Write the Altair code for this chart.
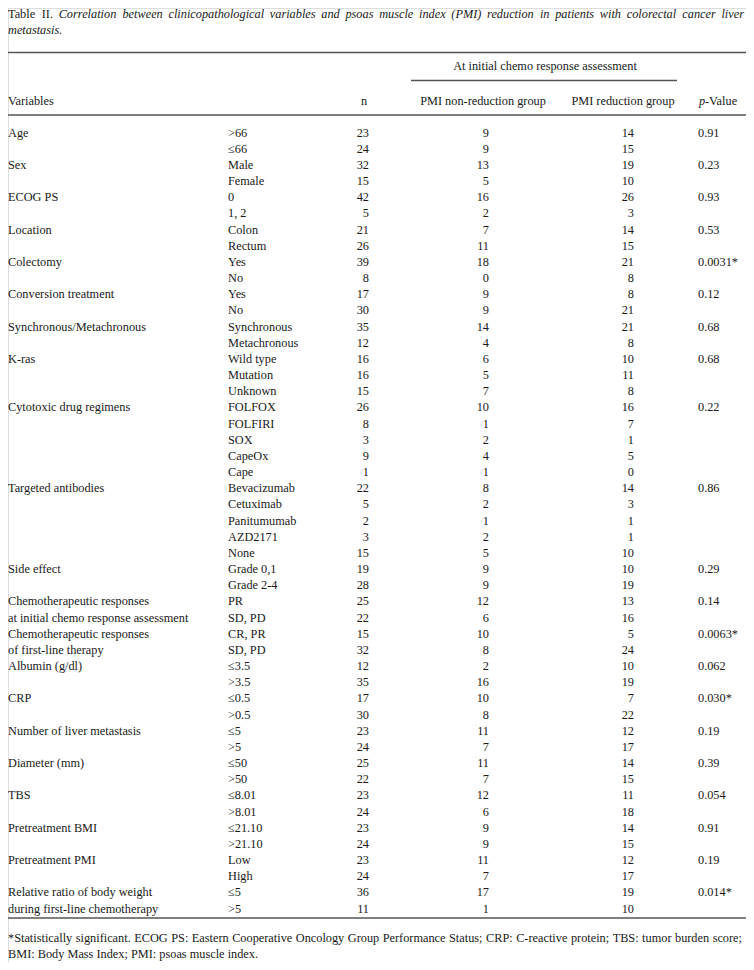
import altair as alt
import pandas as pd

# ---------------- data ----------------
variables = [
    "Age", "", "Sex", "", "ECOG PS", "", "Location", "", "Colectomy", "",
    "Conversion treatment", "", "Synchronous/Metachronous", "",
    "K-ras", "", "", "Cytotoxic drug regimens", "", "", "", "",
    "Targeted antibodies", "", "", "", "", "Side effect", "",
    "Chemotherapeutic responses", "at initial chemo response assessment",
    "Chemotherapeutic responses", "of first-line therapy",
    "Albumin (g/dl)", "", "CRP", "", "Number of liver metastasis", "",
    "Diameter (mm)", "", "TBS", "", "Pretreatment BMI", "",
    "Pretreatment PMI", "", "Relative ratio of body weight",
    "during first-line chemotherapy",
]
categories = [
    ">66", "≤66", "Male", "Female", "0", "1, 2", "Colon", "Rectum", "Yes", "No",
    "Yes", "No", "Synchronous", "Metachronous", "Wild type", "Mutation", "Unknown",
    "FOLFOX", "FOLFIRI", "SOX", "CapeOx", "Cape",
    "Bevacizumab", "Cetuximab", "Panitumumab", "AZD2171", "None",
    "Grade 0,1", "Grade 2-4", "PR", "SD, PD", "CR, PR", "SD, PD",
    "≤3.5", ">3.5", "≤0.5", ">0.5", "≤5", ">5", "≤50", ">50",
    "≤8.01", ">8.01", "≤21.10", ">21.10", "Low", "High", "≤5", ">5",
]
n_values = [
    "23", "24", "32", "15", "42", "5", "21", "26", "39", "8",
    "17", "30", "35", "12", "16", "16", "15",
    "26", "8", "3", "9", "1",
    "22", "5", "2", "3", "15",
    "19", "28", "25", "22", "15", "32",
    "12", "35", "17", "30", "23", "24", "25", "22",
    "23", "24", "23", "24", "23", "24", "36", "11",
]
non_reduction = [
    "9", "9", "13", "5", "16", "2", "7", "11", "18", "0",
    "9", "9", "14", "4", "6", "5", "7",
    "10", "1", "2", "4", "1",
    "8", "2", "1", "2", "5",
    "9", "9", "12", "6", "10", "8",
    "2", "16", "10", "8", "11", "7", "11", "7",
    "12", "6", "9", "9", "11", "7", "17", "1",
]
reduction = [
    "14", "15", "19", "10", "26", "3", "14", "15", "21", "8",
    "8", "21", "21", "8", "10", "11", "8",
    "16", "7", "1", "5", "0",
    "14", "3", "1", "1", "10",
    "10", "19", "13", "16", "5", "24",
    "10", "19", "7", "22", "12", "17", "14", "15",
    "11", "18", "14", "15", "12", "17", "19", "10",
]
p_values = [
    "0.91", "", "0.23", "", "0.93", "", "0.53", "", "0.0031*", "",
    "0.12", "", "0.68", "", "0.68", "", "",
    "0.22", "", "", "", "",
    "0.86", "", "", "", "",
    "0.29", "", "0.14", "", "0.0063*", "",
    "0.062", "", "0.030*", "", "0.19", "", "0.39", "",
    "0.054", "", "0.91", "", "0.19", "", "0.014*", "",
]

title_lead = "Table II."
title_line1 = ("Correlation between clinicopathological variables and psoas muscle index "
               "(PMI) reduction in patients with colorectal cancer liver")
title_line2 = "metastasis."
group_header = "At initial chemo response assessment"
col_headers = ["Variables", "n", "PMI non-reduction group", "PMI reduction group"]
foot1 = ("*Statistically significant. ECOG PS: Eastern Cooperative Oncology Group "
         "Performance Status; CRP: C-reactive protein; TBS: tumor burden score;")
foot2 = "BMI: Body Mass Index; PMI: psoas muscle index."

# ---------------- layout ----------------
FONT = "Liberation Serif"
FS = 12.3
INK = "#1a1a1a"
ROW0 = 132.5
STEP = 16.17
W, H = 738, 954

# approximate Times advance widths (per 1000 em) for justified lines
ROMAN = {" ": 250, "*": 500, ".": 250, ":": 278, ";": 278, "-": 333,
         "A": 722, "B": 667, "C": 667, "E": 611, "G": 722, "I": 333, "M": 889,
         "O": 722, "P": 556, "R": 667, "S": 556, "T": 611}
ITALIC = {" ": 250, "(": 333, ")": 333, ".": 250, "C": 667, "I": 333,
          "M": 833, "P": 611}
LOWER_R = dict(zip("abcdefghijklmnopqrstuvwxyz",
                   [444, 500, 444, 500, 444, 333, 500, 500, 278, 278, 500, 278, 778,
                    500, 500, 500, 500, 333, 389, 278, 500, 500, 722, 500, 500, 444]))
LOWER_I = dict(zip("abcdefghijklmnopqrstuvwxyz",
                   [500, 500, 444, 500, 444, 278, 500, 500, 278, 278, 444, 278, 722,
                    500, 500, 500, 500, 389, 389, 278, 500, 444, 667, 444, 444, 389]))
ROMAN.update(LOWER_R)
ITALIC.update(LOWER_I)


def word_width(w, table):
    return sum(table.get(c, 500) for c in w) * FS / 1000.0


def justify(words, x0, x1):
    """words: list of (text, italic) -> list of (text, italic, x)."""
    widths = [word_width(t, ITALIC if it else ROMAN) for t, it in words]
    gap = (x1 - x0 - sum(widths)) / (len(words) - 1)
    out, x = [], x0
    for (t, it), w in zip(words, widths):
        out.append((t, it, x))
        x += w + gap
    return out


xs = alt.X("x:Q", scale=alt.Scale(domain=[8, 8 + W]), axis=None)
ys = alt.Y("y:Q", scale=alt.Scale(domain=[8, 8 + H], reverse=True), axis=None)

rows = []
for i in range(len(categories)):
    y = ROW0 + i * STEP
    rows.append(dict(t=variables[i], x=8, y=y, a="left", it=False))
    rows.append(dict(t=categories[i], x=228, y=y, a="left", it=False))
    rows.append(dict(t=n_values[i], x=369, y=y, a="right", it=False))
    rows.append(dict(t=non_reduction[i], x=489, y=y, a="right", it=False))
    rows.append(dict(t=reduction[i], x=634, y=y, a="right", it=False))
    rows.append(dict(t=p_values[i], x=698, y=y, a="left", it=False))

# headers
rows.append(dict(t=col_headers[0], x=8, y=101, a="left", it=False))
rows.append(dict(t=col_headers[1], x=364, y=101, a="center", it=False))
rows.append(dict(t=col_headers[2], x=483, y=101, a="center", it=False))
rows.append(dict(t=col_headers[3], x=623, y=101, a="center", it=False))
rows.append(dict(t="p", x=699, y=101, a="left", it=True))
rows.append(dict(t="-Value", x=705, y=101, a="left", it=False))
rows.append(dict(t=group_header, x=545, y=66, a="center", it=False))

# title (justified first line, roman lead + italic text)
title_words = [(w, False) for w in title_lead.split()] + \
              [(w, True) for w in title_line1.split()]
for t, it, x in justify(title_words, 8, 744):
    rows.append(dict(t=t, x=x, y=14, a="left", it=it))
rows.append(dict(t=title_line2, x=8, y=30, a="left", it=True))

# footnote (justified first line)
for t, it, x in justify([(w, False) for w in foot1.split()], 8, 742):
    rows.append(dict(t=t, x=x, y=938, a="left", it=it))
rows.append(dict(t=foot2, x=8, y=954, a="left", it=False))

df = pd.DataFrame(rows)
df = df[df.t != ""]

rules = pd.DataFrame([
    dict(x=7, x2=746, y=52.5),
    dict(x=411, x2=677, y=80.5),
    dict(x=7, x2=746, y=115),
    dict(x=7, x2=746, y=918),
])

layers = []
for a in ["left", "right", "center"]:
    for it in [False, True]:
        sub = df[(df.a == a) & (df.it == it)]
        if len(sub) == 0:
            continue
        layers.append(
            alt.Chart(sub).mark_text(
                align=a, baseline="middle", font=FONT, fontSize=FS, color=INK,
                fontStyle="italic" if it else "normal",
            ).encode(x=xs, y=ys, text="t:N")
        )
layers.append(
    alt.Chart(rules).mark_rule(color="#555555", strokeWidth=1.6).encode(
        x=xs, x2="x2:Q", y=ys
    )
)

chart = alt.layer(*layers).properties(
    width=W, height=H, padding=0,
    autosize=alt.AutoSizeParams(type="none"),
).configure_view(stroke=None).configure(background="white")

chart.save("out.html", embed_options={"renderer": "svg", "actions": False})
